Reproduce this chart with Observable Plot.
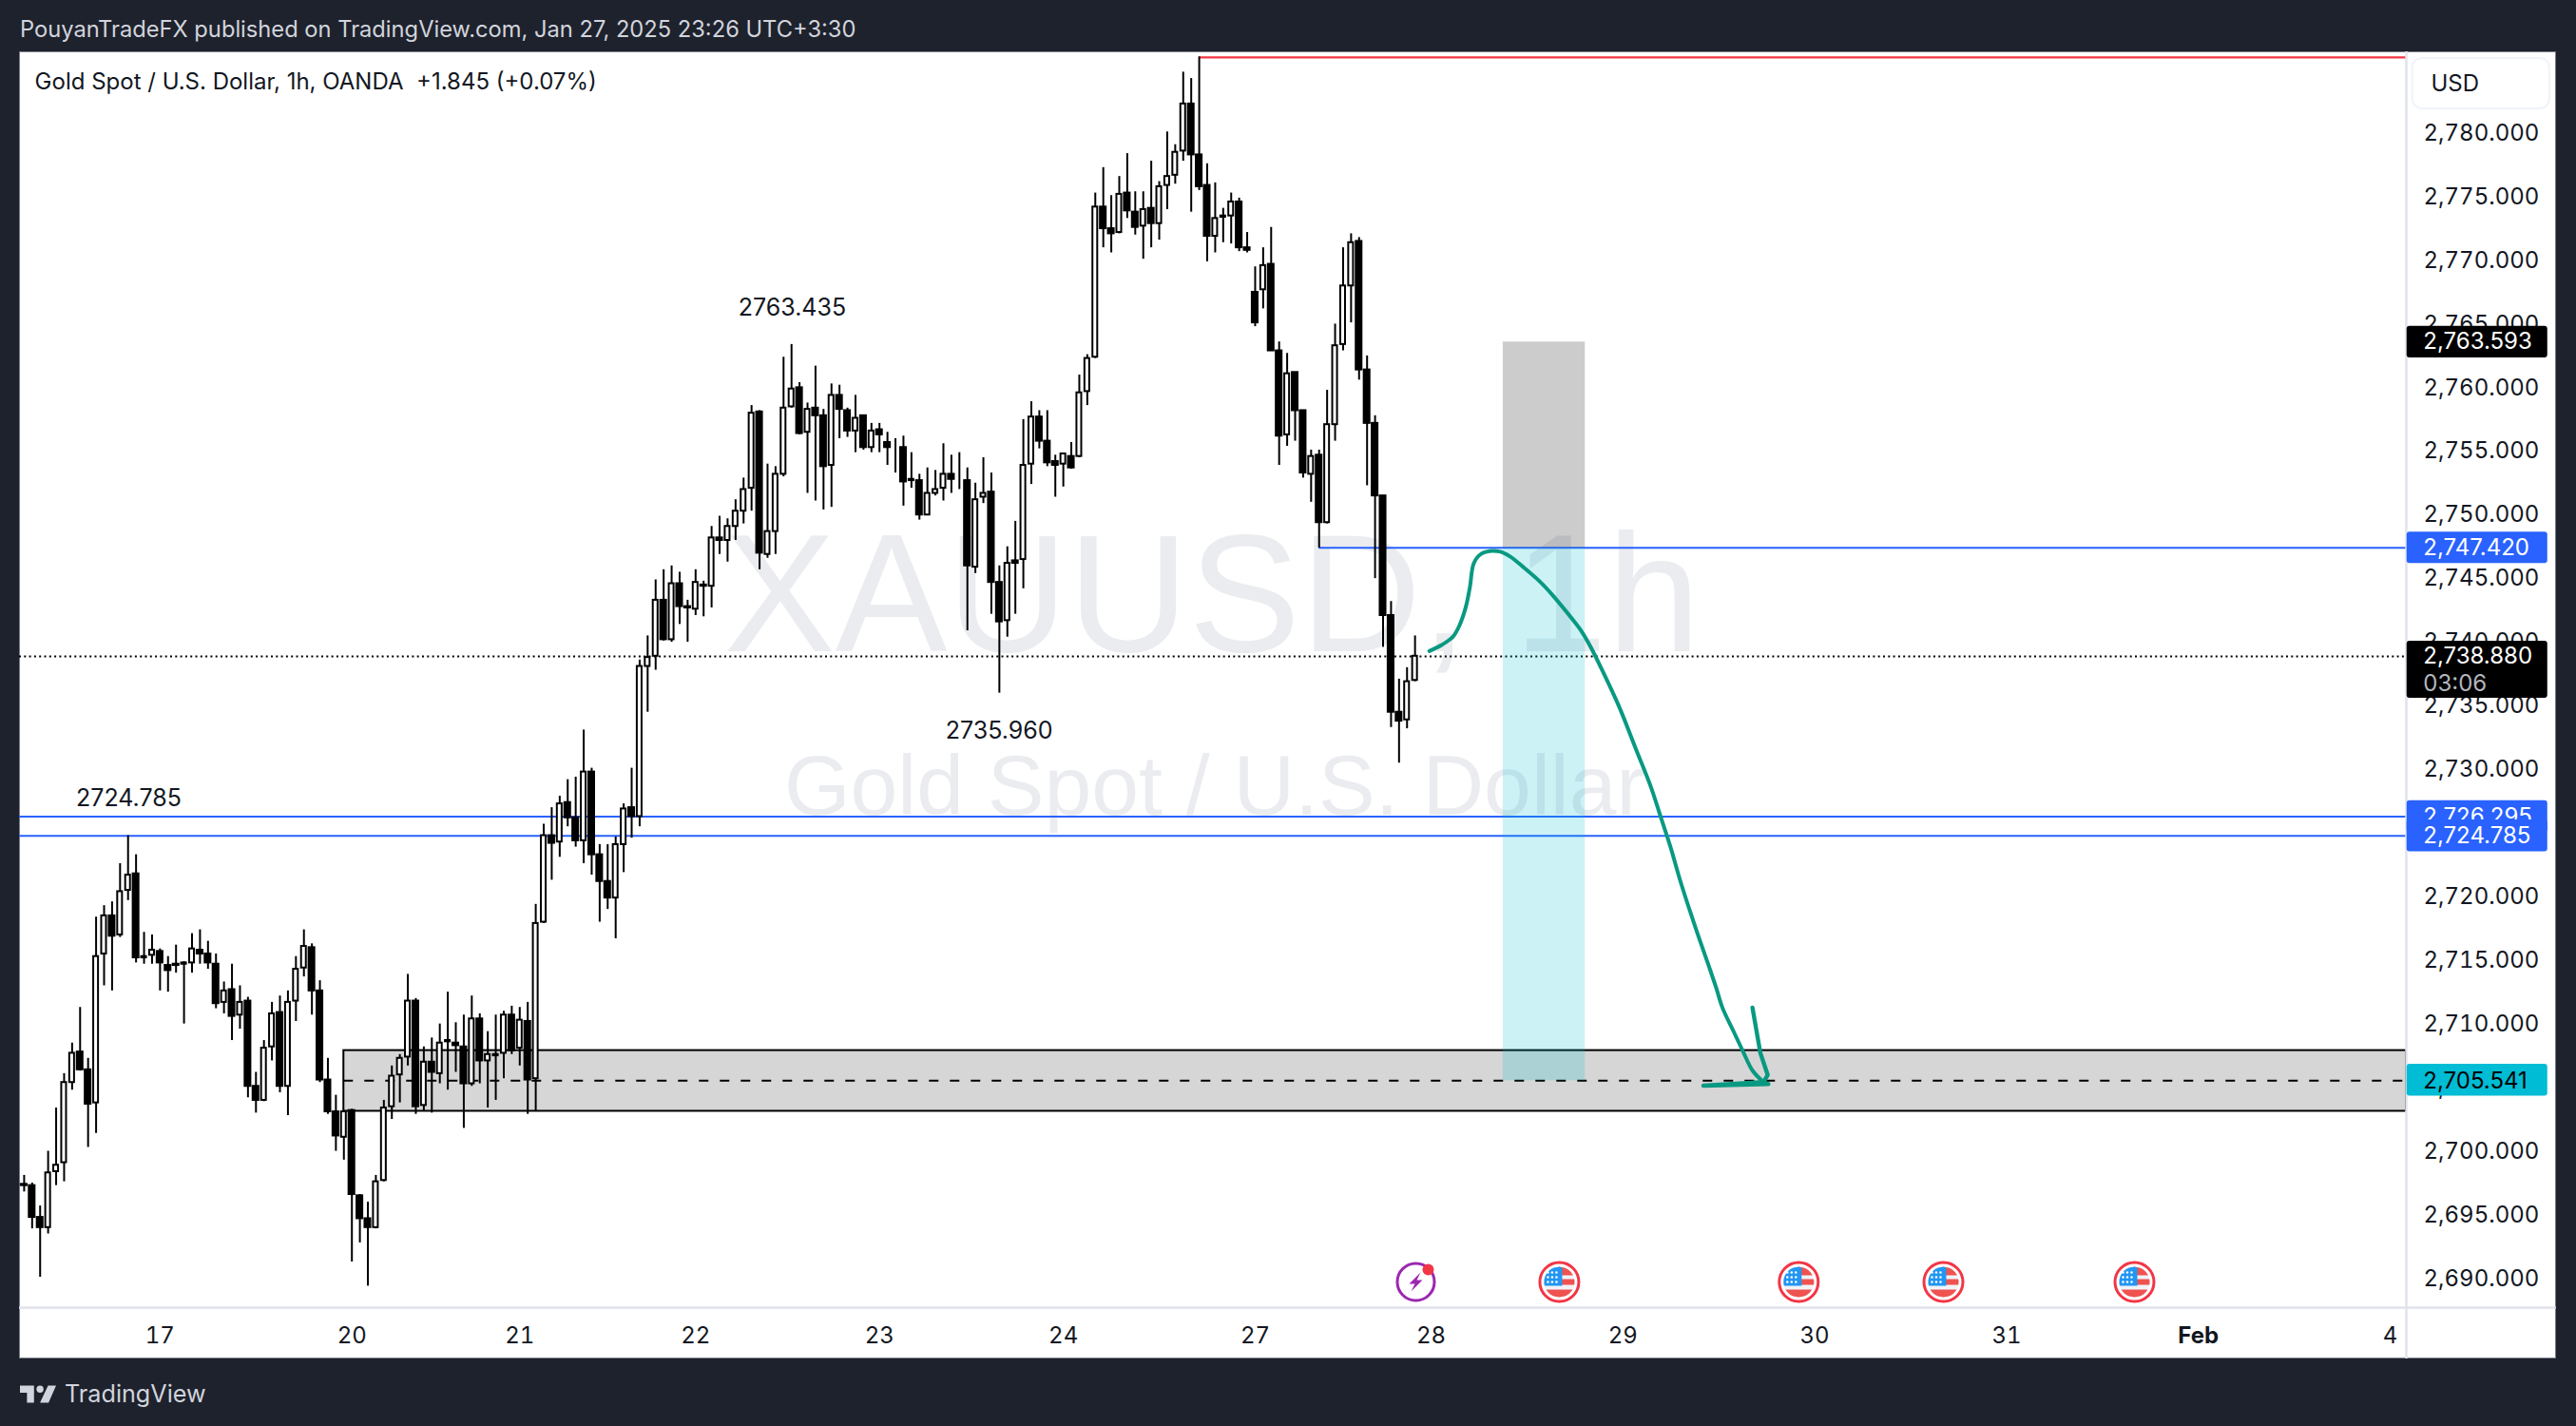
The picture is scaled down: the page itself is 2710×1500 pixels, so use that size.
<!DOCTYPE html>
<html>
<head>
<meta charset="utf-8">
<script src="https://cdn.jsdelivr.net/npm/d3@7"></script>
<script src="https://cdn.jsdelivr.net/npm/@observablehq/plot@0.6"></script>
<style>
html,body{margin:0;padding:0;width:2710px;height:1500px;background:#1e222d;overflow:hidden;font-family:Inter,"Liberation Sans",sans-serif}
#panel{position:absolute;left:20px;top:54px;width:2669px;height:1375px;background:#fff;box-sizing:border-box;border:1px solid #787b86}
#head{position:absolute;left:21px;top:16px;font-size:23.7px;line-height:30px;color:#d1d4dc;white-space:pre}
#foot{position:absolute;left:68px;top:1449px;font-size:25.2px;line-height:34px;color:#d1d4dc}
#logo{position:absolute;left:21px;top:1451px}
#chart{position:absolute;left:0;top:0}
</style>
</head>
<body>
<div id="panel"></div>
<div id="head">PouyanTradeFX published on TradingView.com, Jan 27, 2025 23:26 UTC+3:30</div>
<svg id="logo" width="38" height="30" viewBox="0 0 36 28"><path fill="#d1d4dc" d="M0 6h14v17H7V13H0z"/><circle fill="#d1d4dc" cx="20" cy="9.5" r="3.5"/><path fill="#d1d4dc" d="M28 6h8l-7.5 17H20z"/></svg>
<div id="foot">TradingView</div>
<div id="chart"></div>
<script>
const opens = [
2697.4,2697.3,2694.8,2694.0,2698.4,2699.1,2705.4,2707.8,2706.4,2703.8,
2715.5,2718.5,2717.0,2720.5,2721.8,2715.2,2715.4,2715.7,2714.6,2714.7,
2714.7,2714.8,2715.8,2715.5,2714.7,2711.7,2712.7,2710.7,2711.8,2705.1,
2704.0,2708.2,2710.9,2705.1,2711.8,2714.4,2716.0,2712.6,2705.6,2703.1,
2701.1,2703.2,2696.5,2694.7,2694.0,2697.7,2703.5,2706.0,2707.4,2711.8,
2703.6,2707.0,2706.1,2708.6,2708.5,2708.2,2705.3,2710.4,2707.1,2707.5,
2707.7,2710.7,2708.1,2710.2,2705.7,2718.0,2724.8,2724.3,2727.4,2726.2,
2724.4,2729.8,2723.3,2721.2,2719.9,2724.1,2727.0,2726.3,2738.1,2738.9,
2743.3,2740.2,2744.6,2742.8,2742.6,2744.5,2744.4,2748.2,2748.0,2749.1,
2750.3,2752.1,2758.1,2746.9,2748.7,2753.2,2758.5,2760.0,2756.5,2758.4,
2757.8,2753.9,2759.4,2758.2,2756.6,2757.8,2755.3,2756.7,2755.7,2755.4,
2755.3,2752.7,2752.7,2750.0,2751.7,2752.1,2753.2,2752.9,2752.7,2745.9,
2751.4,2751.8,2744.7,2741.7,2746.4,2746.5,2754.0,2757.7,2755.8,2754.2,
2754.0,2754.6,2754.6,2759.7,2762.4,2774.2,2772.5,2772.2,2775.3,2773.8,
2772.7,2774.1,2772.9,2775.9,2776.7,2778.6,2782.3,2778.3,2775.9,2771.9,
2773.4,2773.5,2774.6,2771.0,2767.5,2767.7,2769.7,2762.9,2756.3,2761.2,
2758.2,2753.2,2754.7,2749.4,2757.1,2763.4,2768.0,2771.5,2761.4,2757.2,
2751.5,2742.1,2734.5,2733.9,2737.0];
const highs = [
2698.1,2697.5,2695.7,2700.0,2703.4,2706.1,2708.5,2711.3,2707.3,2718.4,
2719.3,2719.6,2722.6,2724.8,2723.3,2717.2,2717.0,2715.9,2715.3,2716.2,
2714.9,2717.1,2717.4,2716.5,2715.5,2713.3,2714.7,2713.0,2712.1,2706.2,
2708.7,2711.7,2712.2,2712.6,2715.3,2717.4,2716.3,2713.4,2707.3,2704.4,
2703.2,2703.3,2696.6,2696.0,2698.1,2704.0,2706.7,2707.6,2713.9,2712.0,
2708.2,2708.9,2710.0,2712.5,2710.1,2710.7,2712.2,2710.8,2709.4,2710.7,
2711.0,2711.4,2711.3,2711.7,2719.4,2725.7,2727.0,2727.9,2729.2,2729.4,
2733.1,2730.1,2724.1,2724.1,2724.7,2727.3,2730.1,2738.6,2740.5,2744.9,
2745.7,2746.0,2745.5,2743.3,2745.7,2744.8,2749.1,2749.9,2749.7,2751.2,
2752.9,2758.6,2758.2,2754.0,2753.8,2762.4,2763.4,2760.4,2758.8,2761.7,
2758.3,2760.3,2760.2,2758.4,2759.4,2757.8,2757.2,2757.2,2756.5,2756.0,
2756.2,2754.9,2753.2,2753.7,2753.5,2755.6,2754.7,2754.9,2753.7,2752.5,
2754.5,2753.3,2746.0,2747.5,2749.5,2757.5,2758.9,2758.2,2758.2,2754.7,
2754.8,2755.7,2761.0,2762.6,2775.3,2777.3,2775.1,2776.6,2778.4,2775.4,
2775.4,2777.8,2776.2,2780.1,2779.1,2784.8,2784.3,2786.0,2777.6,2776.1,
2774.1,2775.3,2774.9,2772.2,2769.5,2771.0,2772.6,2763.6,2762.7,2761.2,
2758.2,2755.1,2755.1,2759.8,2765.0,2771.0,2772.1,2771.8,2762.5,2757.8,
2751.5,2743.2,2737.1,2738.0,2740.5];
const lows = [
2696.8,2693.9,2690.1,2693.5,2697.3,2697.6,2704.8,2706.3,2700.3,2701.4,
2713.0,2712.6,2716.8,2719.7,2714.8,2714.7,2714.7,2712.6,2712.5,2714.0,
2710.0,2714.0,2714.7,2714.3,2711.2,2710.8,2708.7,2709.6,2704.2,2703.0,
2703.9,2707.1,2704.6,2702.8,2710.2,2713.7,2710.7,2705.4,2702.9,2700.0,
2699.3,2691.3,2692.8,2689.4,2693.9,2697.6,2702.5,2703.8,2706.7,2702.9,
2703.1,2703.0,2705.3,2704.8,2706.2,2701.8,2705.1,2705.3,2703.4,2704.0,
2705.7,2707.6,2706.7,2702.9,2703.1,2717.9,2721.3,2723.1,2725.5,2723.9,
2722.6,2721.7,2718.0,2719.0,2716.7,2721.9,2724.6,2725.5,2734.5,2737.8,
2740.1,2740.0,2741.4,2740.0,2742.1,2742.0,2742.7,2746.9,2746.3,2748.0,
2749.3,2750.3,2745.7,2746.6,2746.9,2753.0,2758.4,2756.3,2751.7,2751.1,
2750.4,2750.6,2756.0,2756.1,2754.9,2755.1,2754.9,2754.9,2753.9,2753.3,
2750.7,2752.1,2749.6,2750.0,2751.5,2751.1,2751.7,2752.0,2740.9,2745.4,
2750.9,2742.2,2736.0,2740.4,2742.2,2744.2,2752.4,2755.2,2753.8,2751.4,
2752.2,2753.6,2754.5,2758.6,2762.3,2771.0,2770.6,2772.1,2773.3,2772.0,
2770.1,2771.0,2771.6,2774.0,2776.0,2777.8,2773.8,2775.5,2769.9,2770.6,
2771.4,2771.3,2770.7,2770.6,2764.8,2766.2,2762.9,2753.9,2755.4,2755.8,
2752.9,2751.0,2747.4,2749.3,2755.8,2762.9,2765.1,2760.6,2752.3,2745.0,
2739.6,2733.3,2730.5,2733.2,2736.9];
const closes = [
2697.3,2694.8,2694.0,2698.3,2698.9,2705.4,2707.7,2706.4,2703.7,2715.3,
2718.5,2716.9,2720.4,2721.7,2715.2,2715.3,2715.8,2714.8,2714.2,2714.6,
2714.8,2715.9,2715.5,2714.8,2711.6,2712.6,2710.6,2711.7,2705.1,2704.0,
2708.1,2710.8,2705.1,2711.7,2714.3,2716.1,2712.6,2705.6,2703.1,2701.2,
2703.1,2696.6,2694.7,2694.0,2697.6,2703.4,2705.9,2707.3,2711.8,2703.5,
2707.0,2706.2,2708.5,2708.7,2708.3,2705.3,2710.4,2707.1,2707.6,2707.6,
2710.7,2707.9,2710.3,2705.6,2717.9,2724.8,2724.2,2727.3,2726.2,2724.4,
2729.8,2723.3,2721.2,2719.9,2724.1,2726.9,2726.3,2738.1,2738.8,2743.3,
2740.2,2744.6,2742.8,2742.7,2744.7,2744.4,2748.2,2748.0,2749.1,2750.3,
2752.0,2758.0,2747.0,2748.7,2753.2,2758.4,2759.9,2756.4,2758.3,2757.8,
2753.8,2759.4,2758.3,2756.6,2757.6,2755.3,2756.6,2756.3,2755.3,2755.4,
2752.6,2752.8,2750.0,2751.7,2752.0,2753.2,2752.8,2752.9,2746.0,2751.2,
2751.7,2744.7,2741.6,2746.2,2746.2,2753.9,2757.7,2755.8,2754.1,2753.9,
2754.8,2753.7,2759.6,2762.3,2774.2,2772.5,2772.1,2775.2,2773.9,2772.6,
2774.0,2772.9,2775.8,2776.6,2778.5,2782.3,2778.3,2775.8,2771.9,2773.3,
2773.5,2774.6,2771.0,2770.8,2765.1,2769.6,2762.9,2756.2,2761.1,2758.2,
2753.3,2754.6,2749.4,2757.1,2763.3,2768.0,2771.4,2761.4,2757.2,2751.5,
2742.1,2734.5,2733.8,2736.9,2738.9];

const xTickBars = [17,41,62,84,107,130,154,176,200,224,248,296];
const xTickLabels = ["17","20","21","22","23","24","27","28","29","30","31","4"];
const febBar = 272, febLabel = "Feb";
const priceTicks = d3.range(2690, 2781, 5);
const lastBarAxis = 298.01;

const highLevel = 2785.96, highFromBar = 147;
const entryLevel = 2747.42, entryFromBar = 162;
const zoneLevels = [2726.295, 2724.785];
const lastPrice = 2738.88;
const targetLevel = 2705.541, stopLevel = 2763.593;
const boxTop = 2707.91, boxBottom = 2703.14, boxFromBar = 40;
const toolBarFrom = 185.03, toolBarTo = 195.3;

const noteTexts = ["2724.785","2763.435","2735.960"];
const noteBars = [13.09,96.09,121.97];
const notePrices = [2727.73,2766.3,2733.0];

const curveBars = [175.79,177.37,178.76,179.55,180.34,180.86,181.33,182.13,183.51,184.7,185.89,187.68,189.66,191.24,193.23,194.81,196,197.58,199.57,201.55,203.53,204.72,205.91,207.3,209.08,210.66,211.66,212.45,213.84,215.02,216.21,217.6];
const curvePrices = [2739.31,2739.8,2740.45,2741.31,2742.74,2744.31,2746.17,2746.88,2747.17,2747.11,2746.74,2745.83,2744.74,2743.68,2742.17,2740.88,2739.6,2737.59,2734.88,2731.73,2728.59,2726.3,2724.01,2721.01,2717.58,2714.72,2712.87,2711.29,2709.43,2707.86,2706.35,2705.43];
const arrowBars = [216.21,217.2,218.12,217.6,210.07,218.2];
const arrowPrices = [2711.29,2707.72,2706.0,2705.43,2705.15,2705.29];

const flagBars = [192.05,222,240.1,264];
const boltBar = [174.1];
const eventPrice = 2689.73;

const badgeFrom = 298.1, badgeTo = 315.7, badgeTextBar = 300.13;
const badgeTexts = ["2,763.593","2,747.420","2,738.880","2,726.295","2,724.785","2,705.541"];
const badgePrices = [2763.593,2747.42,2738.92,2726.295,2724.785,2705.541];
const badgeTops = [2764.82,2748.65,2740.08,2727.55,2726.03,2706.83];
const badgeBottoms = [2762.35,2746.18,2735.6,2725.04,2723.53,2704.33];
const badgeFills = ["#000","#2962ff","#000","#2962ff","#2962ff","#00bcd4"];
const badgeInk = ["#fff","#fff","#fff","#fff","#fff","#000"];
const countdown = "03:06", countdownPrice = 2736.75;

const candles = opens.map((o,i)=>({i,o,h:highs[i],l:lows[i],c:closes[i]}));
const ups = candles.filter(d=>d.c>=d.o), downs = candles.filter(d=>d.c<d.o);
const badges = badgeTexts.map((t,k)=>({t,p:badgePrices[k],top:badgeTops[k],bot:badgeBottoms[k],fill:badgeFills[k],ink:badgeInk[k]}));

function band(x0,y0,x1,y1){return {draw(c){const R=16,ys=d3.range(y0,y1+.01,1);
  ys.forEach((y,k)=>{const x=Math.min(x1,Math.sqrt(Math.max(0,R*R-y*y)));k?c.lineTo(x,y):c.moveTo(x,y)});
  ys.slice().reverse().forEach(y=>c.lineTo(Math.max(x0,-Math.sqrt(Math.max(0,R*R-y*y))),y));c.closePath()}}}
const stars={draw(c){for(const x of [-12,-7.5,-3])for(const y of [-10,-5,0]){c.moveTo(x+1.3,y);c.arc(x,y,1.3,0,7)}}};
const bolt={draw(c){[[5,-10],[-7,2],[-1,2],[-5,10],[7,-2],[1,-2]].forEach(([x,y],k)=>k?c.lineTo(x,y):c.moveTo(x,y));c.closePath()}};

const F = 24;
const fmt = d3.format(",.3f");
const axisEnd = lastBarAxis, rightEdge = 316.78, bottomEdge = 2683.67, topEdge = 2786.4;

const chart = Plot.plot({
  width:2710,height:1500,marginLeft:20,marginRight:179,marginTop:54,marginBottom:125,
  style:{background:"none",fontFamily:"Inter",fontSize:"24px",color:"#131722",overflow:"visible"},
  x:{type:"linear",domain:[-0.583,axisEnd],label:null},
  y:{type:"linear",domain:[2687.71,topEdge],label:null},
  marks:[
    Plot.text(["XAUUSD, 1h"],{x:()=>148.6,y:()=>2743.52,text:d=>d,fontSize:176,fill:"#eaecef",fontFamily:"Liberation Sans"}),
    Plot.text(["Gold Spot / U.S. Dollar"],{x:()=>148.9,y:()=>2728.61,text:d=>d,fontSize:89.5,fill:"#eaecef",fontFamily:"Liberation Sans"}),
    Plot.ruleY([lastPrice],{stroke:"#000",strokeWidth:2,strokeDasharray:"2,3.3"}),
    Plot.ruleY(zoneLevels,{stroke:"#2962ff",strokeWidth:2}),
    Plot.ruleY([entryLevel],{x1:()=>entryFromBar,x2:()=>axisEnd,stroke:"#2962ff",strokeWidth:2}),
    Plot.ruleY([highLevel],{x1:()=>highFromBar,x2:()=>axisEnd,stroke:"#f23645",strokeWidth:2.2}),
    Plot.rect([0],{x1:()=>boxFromBar,x2:()=>axisEnd,y1:()=>boxBottom,y2:()=>boxTop,fill:"#000",fillOpacity:.16,stroke:"#000",strokeWidth:2}),
    Plot.ruleY([targetLevel],{x1:()=>boxFromBar,x2:()=>axisEnd,stroke:"#000",strokeWidth:2,strokeDasharray:"10,12"}),
    Plot.rect([0],{x1:()=>toolBarFrom,x2:()=>toolBarTo,y1:()=>entryLevel,y2:()=>stopLevel,fill:"#000",fillOpacity:.2}),
    Plot.rect([0],{x1:()=>toolBarFrom,x2:()=>toolBarTo,y1:()=>targetLevel,y2:()=>entryLevel,fill:"#00bcd4",fillOpacity:.2}),
    Plot.ruleX(candles,{x:"i",y1:"l",y2:"h",stroke:"#000",strokeWidth:2}),
    Plot.rect(downs,{x1:d=>d.i-.36,x2:d=>d.i+.36,y1:"o",y2:"c",fill:"#000",stroke:"#000",strokeWidth:2}),
    Plot.rect(ups,{x1:d=>d.i-.3,x2:d=>d.i+.3,y1:"o",y2:"c",fill:"#fff",stroke:"#000",strokeWidth:2}),
    Plot.text(noteTexts,{x:noteBars,y:notePrices,text:d=>d,fontSize:25,fill:"#131722"}),
    Plot.line(curveBars,{x:curveBars,y:curvePrices,curve:"catmull-rom",stroke:"#089981",strokeWidth:4,strokeLinecap:"round"}),
    Plot.line(arrowBars,{x:arrowBars,y:arrowPrices,stroke:"#089981",strokeWidth:4.4,strokeLinecap:"round",strokeLinejoin:"round"}),
    // events
    Plot.dot(boltBar,{x:d=>d,y:()=>eventPrice,r:19.5,fill:"#fff",stroke:"#9c27b0",strokeWidth:3}),
    Plot.dot(boltBar,{x:d=>d,y:()=>eventPrice,symbol:bolt,r:8,fill:"#9c27b0",stroke:"none"}),
    Plot.dot(boltBar,{x:d=>d,y:()=>eventPrice,dx:13,dy:-13,r:6,fill:"#f23645",stroke:"none"}),
    Plot.dot(flagBars,{x:d=>d,y:()=>eventPrice,r:20.5,fill:"#fff",stroke:"#f23645",strokeWidth:3}),
    Plot.dot(flagBars,{x:d=>d,y:()=>eventPrice,symbol:band(-16,-16,16,16),r:8,fill:"#f0f3fa",stroke:"none"}),
    Plot.dot(flagBars,{x:d=>d,y:()=>eventPrice,symbol:band(-1,-16,16,-7),r:8,fill:"#ef5350",stroke:"none"}),
    Plot.dot(flagBars,{x:d=>d,y:()=>eventPrice,symbol:band(-1,-3,16,3),r:8,fill:"#ef5350",stroke:"none"}),
    Plot.dot(flagBars,{x:d=>d,y:()=>eventPrice,symbol:band(-16,8,16,16),r:8,fill:"#ef5350",stroke:"none"}),
    Plot.dot(flagBars,{x:d=>d,y:()=>eventPrice,symbol:band(-16,-16,3,4),r:8,fill:"#2196f3",stroke:"none"}),
    Plot.dot(flagBars,{x:d=>d,y:()=>eventPrice,symbol:stars,r:8,fill:"#fff",stroke:"none"}),
    // axis panes
    Plot.ruleX([axisEnd],{y1:()=>bottomEdge,y2:()=>topEdge,stroke:"#e0e3eb",strokeWidth:2.5}),
    Plot.ruleY([2687.71],{x1:()=>-0.583,x2:()=>rightEdge,stroke:"#e0e3eb",strokeWidth:2.5}),
    Plot.axisX({anchor:"bottom",ticks:xTickBars,tickSize:0,tickPadding:20,fontSize:F,fill:"#131722",label:null,tickFormat:d=>xTickLabels[xTickBars.indexOf(d)]}),
    Plot.axisX({anchor:"bottom",ticks:[febBar],tickSize:0,tickPadding:20,fontSize:F,fontWeight:700,fill:"#131722",label:null,tickFormat:()=>febLabel}),
    Plot.axisY({anchor:"right",ticks:priceTicks,tickSize:0,tickPadding:18,fontSize:F,fill:"#131722",label:null,tickFormat:fmt}),
    // USD button
    Plot.rect([0],{x1:()=>298.8,x2:()=>315.95,y1:()=>2781.92,y2:()=>2785.88,fill:"#fff",stroke:"#f0f3fa",strokeWidth:2,rx:10}),
    Plot.text(["USD"],{x:()=>301.1,y:()=>2783.9,text:d=>d,fontSize:F,textAnchor:"start",fill:"#131722"}),
    // price badges, drawn one by one so a later one can cover an earlier one
    ...badges.flatMap(b=>[
      Plot.rect([b],{x1:()=>badgeFrom,x2:()=>badgeTo,y1:"bot",y2:"top",fill:"fill",rx:3}),
      Plot.text([b],{x:()=>badgeTextBar,y:"p",text:"t",fontSize:F,textAnchor:"start",fill:"ink"})
    ]),
    Plot.text([countdown],{x:()=>badgeTextBar,y:()=>countdownPrice,text:d=>d,fontSize:F,textAnchor:"start",fill:"#b2b5be"}),
    Plot.text(["Gold Spot / U.S. Dollar, 1h, OANDA  +1.845 (+0.07%)"],{x:()=>1.33,y:()=>2784.05,text:d=>d,fontSize:24,textAnchor:"start",fill:"#131722",fontWeight:400})
  ]
});
document.getElementById("chart").appendChild(chart);
</script>
</body>
</html>
